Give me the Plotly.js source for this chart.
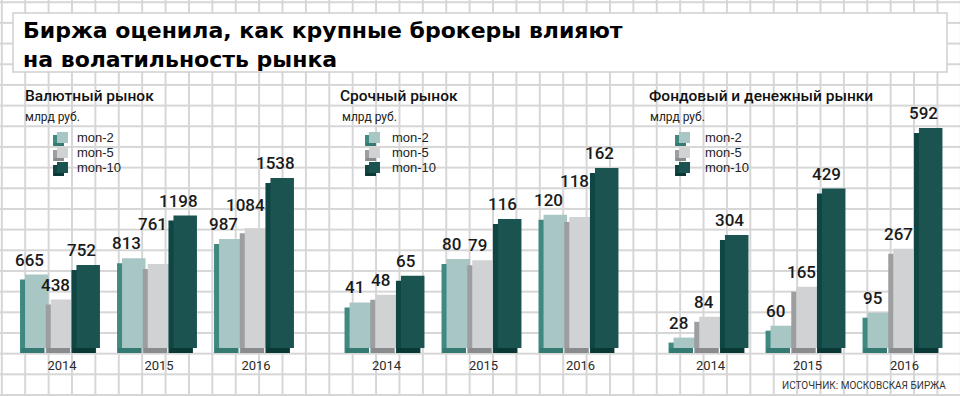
<!DOCTYPE html>
<html>
<head>
<meta charset="utf-8">
<script src="https://cdn.plot.ly/plotly-3.0.1.min.js"></script>
<style>
html,body{margin:0;padding:0;}
body{
  width:960px;height:396px;overflow:hidden;background-color:#fff;
  background-image:linear-gradient(to right,#d6d6d6 1.5px,transparent 1.5px),linear-gradient(to bottom,#d6d6d6 1.5px,transparent 1.5px);
  background-size:23.4px 20.68px;background-position:0.85px 1.25px;
}
#chart{width:960px;height:396px;}
</style>
</head>
<body>
<div id="chart"></div>
<script>
// ---- data ----
const years = ['2014', '2015', '2016'];
const seriesNames = ['mon-2', 'mon-5', 'mon-10'];
const panelTitles = ['Валютный рынок', 'Срочный рынок', 'Фондовый и денежный рынки'];
const unitLabel = 'млрд руб.';
const titleLine1 = 'Биржа оценила, как крупные брокеры влияют';
const titleLine2 = 'на волатильность рынка';
const sourceText = 'ИСТОЧНИК: МОСКОВСКАЯ БИРЖА';

const fxMon2 = [665, 813, 987];
const fxMon5 = [438, 761, 1084];
const fxMon10 = [752, 1198, 1538];

const futMon2 = [41, 80, 120];
const futMon5 = [48, 79, 118];
const futMon10 = [65, 116, 162];

const eqMon2 = [28, 60, 95];
const eqMon5 = [84, 165, 267];
const eqMon10 = [304, 429, 592];

const panelSeries = [
  [fxMon2, fxMon5, fxMon10],
  [futMon2, futMon5, futMon10],
  [eqMon2, eqMon5, eqMon10]
];

// ---- styling / layout constants ----
const W = 960, H = 396;
const frontColors = ['#a7c6c4', '#d1d2d4', '#1a5350'];
const sideColors = ['#3f8981', '#9d9ea0', '#0f4643'];
const bottomColors = ['#357a72', '#8a8b8d', '#0a3835'];

const xDomPx = [[13.5, 304.5], [338, 629], [662, 953]];
const maxTopPx = [178, 168, 128];
const basePx = 348, domBotPx = 356, domTopPx = 110;
const catPx = 97;
const frontWPx = 23.5;
const frontW = frontWPx / catPx;
const depthXPx = 5, depthYPx = 5;
const firstOffset = -0.381, pitch = 0.265;
const labelSize = 17, digitW = 9.6, labelStep = 19;

const titleX = [23, 338, 647];
const unitX = [23, 340, 648];
const legSqX = [57, 369, 679];
const legTxtX = [75, 390, 703];
const legRowY = [137.5, 152.5, 167.5];

const px = x => x / W;
const py = y => 1 - y / H;

const traces = [];
const annotations = [];
const shapes = [];
const layoutAxes = {};

// title box
shapes.push({type: 'rect', xref: 'paper', yref: 'paper', layer: 'below',
  x0: px(13), x1: px(947), y0: py(72), y1: py(13),
  fillcolor: '#ffffff', line: {color: '#cfcfcf', width: 1.5}});

panelSeries.forEach((series, p) => {
  const xa = p === 0 ? 'x' : 'x' + (p + 1);
  const ya = p === 0 ? 'y' : 'y' + (p + 1);
  const xKey = p === 0 ? 'xaxis' : 'xaxis' + (p + 1);
  const yKey = p === 0 ? 'yaxis' : 'yaxis' + (p + 1);
  const maxV = Math.max(...series.map(s => Math.max(...s)));
  const ppu = (basePx - maxTopPx[p]) / maxV;
  const dyu = depthYPx / ppu;
  const dxu = depthXPx / catPx;

  layoutAxes[xKey] = {
    domain: [px(xDomPx[p][0]), px(xDomPx[p][1])], anchor: ya,
    type: 'category', range: [-0.5, 2.5], fixedrange: true,
    showgrid: false, zeroline: false, showline: false, ticks: '',
    tickfont: {family: 'Roboto', size: 13, color: '#2a2a2a'}
  };
  layoutAxes[yKey] = {
    domain: [py(domBotPx), py(domTopPx)], anchor: xa,
    range: [-(domBotPx - basePx) / ppu, (basePx - domTopPx) / ppu],
    visible: false, fixedrange: true
  };

  series.forEach((vals, i) => {
    const off = firstOffset + i * pitch;
    // side/back face
    traces.push({type: 'bar', xaxis: xa, yaxis: ya, x: years, y: vals,
      base: vals.map(() => -dyu), offset: off - dxu, width: frontW,
      marker: {color: sideColors[i], line: {width: 0}}, showlegend: false, hoverinfo: 'skip'});
    // bottom face
    traces.push({type: 'bar', xaxis: xa, yaxis: ya, x: years, y: vals.map(() => dyu),
      base: vals.map(() => -dyu), offset: off - dxu + 0.01, width: frontW,
      marker: {color: bottomColors[i], line: {width: 0}}, showlegend: false, hoverinfo: 'skip'});
    // front face
    traces.push({type: 'bar', xaxis: xa, yaxis: ya, x: years, y: vals, name: seriesNames[i],
      offset: off, width: frontW,
      marker: {color: frontColors[i], line: {width: 0}}, showlegend: false,
      hovertemplate: seriesNames[i] + ': %{y}<extra></extra>'});
    // legend
    const sx = legSqX[p], cy = legRowY[i];
    shapes.push({type: 'rect', xref: 'paper', yref: 'paper', layer: 'above',
      x0: px(sx - 4), x1: px(sx + 7), y0: py(cy + 8.5), y1: py(cy - 2.5),
      fillcolor: sideColors[i], line: {width: 0}});
    shapes.push({type: 'rect', xref: 'paper', yref: 'paper', layer: 'above',
      x0: px(sx - 3), x1: px(sx + 7), y0: py(cy + 8.5), y1: py(cy + 5.5),
      fillcolor: bottomColors[i], line: {width: 0}});
    shapes.push({type: 'rect', xref: 'paper', yref: 'paper', layer: 'above',
      x0: px(sx), x1: px(sx + 11), y0: py(cy + 5.5), y1: py(cy - 5.5),
      fillcolor: frontColors[i], line: {width: 0}});
    annotations.push({xref: 'paper', yref: 'paper', x: px(legTxtX[p]), y: py(cy),
      text: seriesNames[i], showarrow: false, xanchor: 'left', yanchor: 'middle',
      font: {family: 'Liberation Sans', size: 13, color: '#222'}});
  });

  // value labels: placed above each bar, nudged so they do not collide
  years.forEach((yr, j) => {
    const placed = [];
    series.forEach((vals, i) => {
      const v = vals[j];
      const off = firstOffset + i * pitch;
      const topPx = basePx - v * ppu;
      const frontL = xDomPx[p][0] + (j + 0.5 + off) * catPx;
      const frontC = frontL + frontWPx / 2;
      const w = String(v).length * digitW;
      let cx = frontC - 7;
      let bottom = topPx - 3;
      if (i < series.length - 1) {
        const nTop = basePx - series[i + 1][j] * ppu;
        const nSideL = xDomPx[p][0] + (j + 0.5 + off + pitch) * catPx - depthXPx;
        if (nTop < bottom - 2) cx = Math.min(cx, nSideL - w / 2 - 1);
      }
      placed.forEach(q => {
        if (Math.abs(cx - q.cx) < (w + q.w) / 2 + 1 && bottom > q.bottom - labelStep && bottom - labelStep < q.bottom) {
          bottom = q.bottom - labelStep;
        }
      });
      placed.push({cx: cx, w: w, bottom: bottom});
      annotations.push({xref: xa, yref: ya, x: j + off + frontW / 2, y: v,
        text: String(v), showarrow: false, xanchor: 'center', yanchor: 'bottom',
        xshift: cx - frontC, yshift: topPx - bottom,
        font: {family: 'Roboto', size: labelSize, weight: 500, color: '#1a1a1a'}});
    });
  });

  annotations.push({xref: 'paper', yref: 'paper', x: px(titleX[p]), y: py(96),
    text: panelTitles[p], showarrow: false, xanchor: 'left', yanchor: 'middle',
    font: {family: 'Roboto', size: 15.5, weight: 500, color: '#111'}});
  annotations.push({xref: 'paper', yref: 'paper', x: px(unitX[p]), y: py(117),
    text: unitLabel, showarrow: false, xanchor: 'left', yanchor: 'middle',
    font: {family: 'Roboto', size: 12, color: '#222'}});
});

annotations.push({xref: 'paper', yref: 'paper', x: px(948), y: py(385),
  text: sourceText, showarrow: false, xanchor: 'right', yanchor: 'middle',
  font: {family: 'Roboto', size: 10, color: '#333'}});

const layout = Object.assign({
  width: W, height: H,
  margin: {l: 0, r: 0, t: 0, b: 0, pad: 0},
  paper_bgcolor: 'rgba(0,0,0,0)', plot_bgcolor: 'rgba(0,0,0,0)',
  barmode: 'overlay', showlegend: false,
  title: {text: titleLine1 + '<br>' + titleLine2, x: px(23), xanchor: 'left', xref: 'paper',
    y: py(38), yanchor: 'middle', yref: 'paper',
    font: {family: 'DejaVu Sans', size: 22, weight: 700, color: '#000'}},
  annotations: annotations, shapes: shapes
}, layoutAxes);

Plotly.newPlot('chart', traces, layout, {staticPlot: true, displayModeBar: false});
</script>
</body>
</html>
